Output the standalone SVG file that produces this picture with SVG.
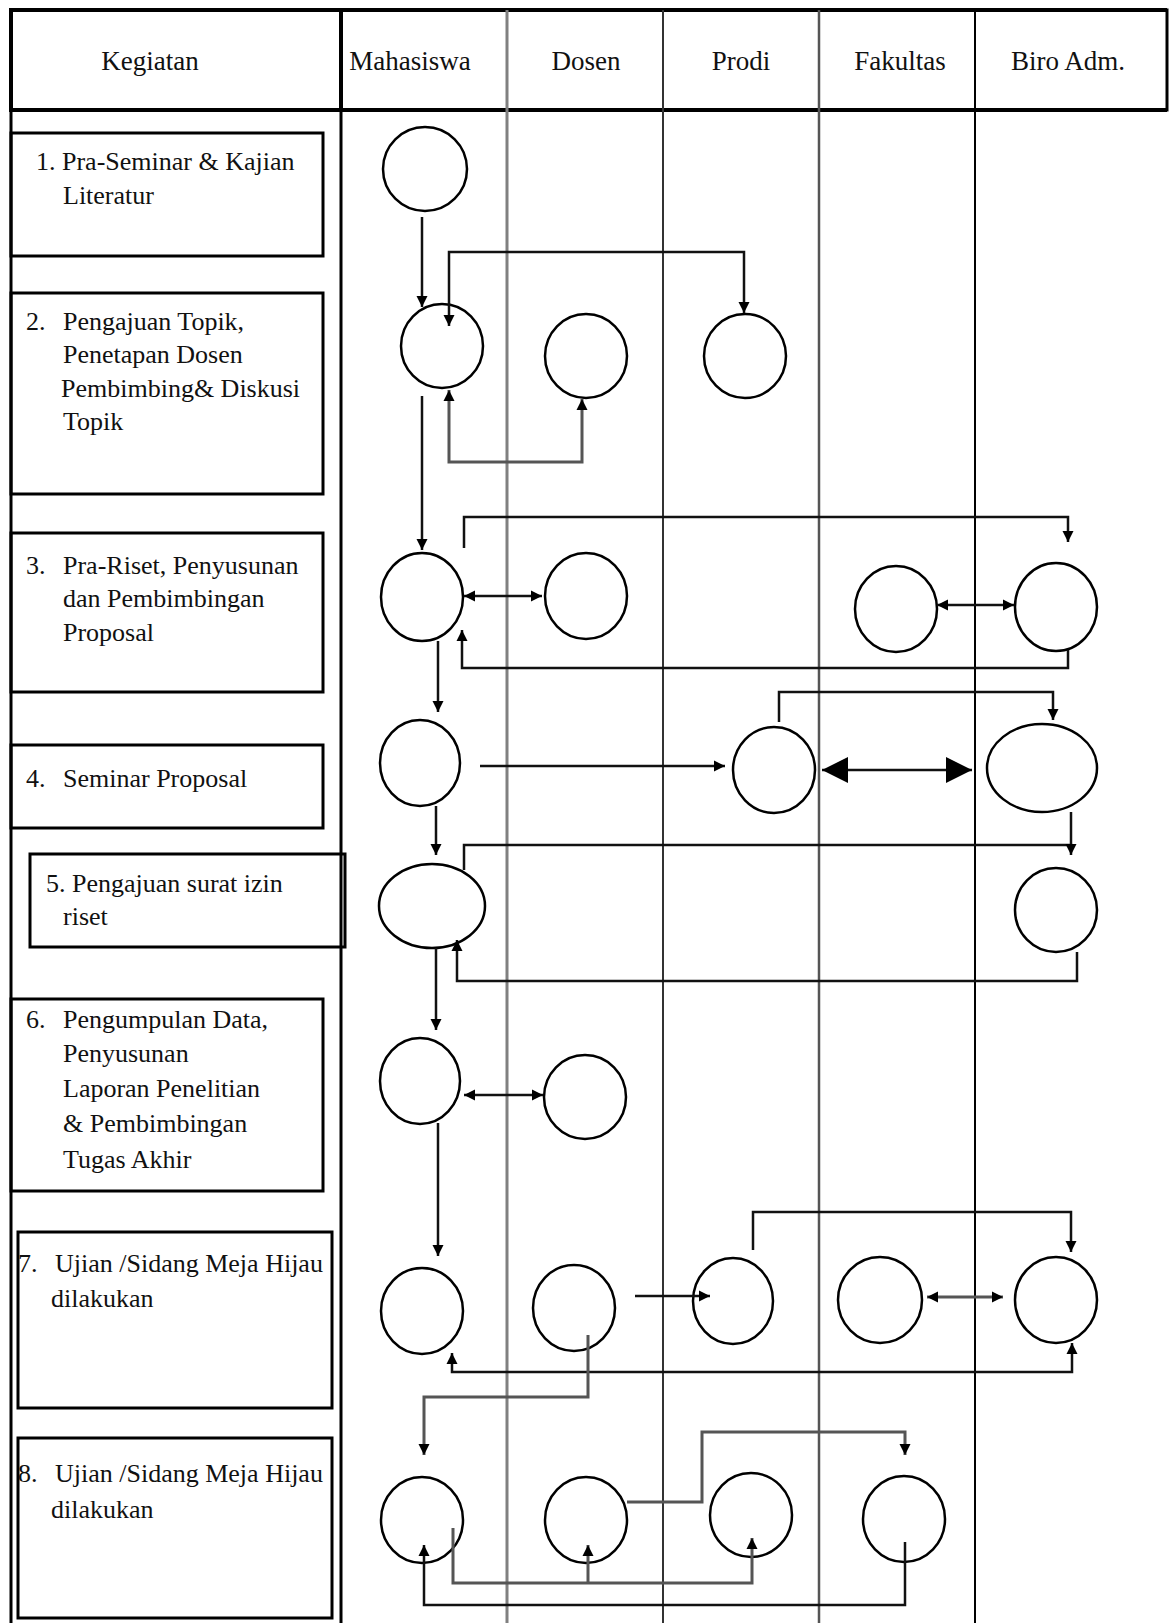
<svg xmlns="http://www.w3.org/2000/svg" width="1169" height="1623" viewBox="0 0 1169 1623">
<style>
.t{font-family:"Liberation Serif","Times New Roman",serif;font-size:26px;fill:#111}
.h{font-family:"Liberation Serif","Times New Roman",serif;font-size:27px;fill:#111;text-anchor:middle}
.box{fill:none;stroke:#000;stroke-width:3}
.n{fill:#fff;stroke:#000;stroke-width:2.5}
.c{fill:none;stroke:#111;stroke-width:2.5}
.g{fill:none;stroke:#555;stroke-width:3}
</style>
<defs>
<marker id="ah" viewBox="0 0 10 10" refX="10" refY="5" markerWidth="11" markerHeight="12" markerUnits="userSpaceOnUse" orient="auto-start-reverse"><path d="M0,0 L10,5 L0,10 z" fill="#000"/></marker>
<marker id="big" viewBox="0 0 10 10" refX="10" refY="5" markerWidth="26" markerHeight="30" markerUnits="userSpaceOnUse" orient="auto-start-reverse"><path d="M0,0 L10,5 L0,10 z" fill="#000"/></marker>
</defs>
<rect width="1169" height="1623" fill="#fff"/>

<g id="grid">
<rect x="11" y="10" width="330" height="100" fill="none" stroke="#000" stroke-width="4"/>
<rect x="341" y="10" width="826" height="100" fill="none" stroke="#000" stroke-width="3"/>
<line x1="11" y1="10" x2="1167" y2="10" stroke="#000" stroke-width="4"/>
<line x1="11" y1="110" x2="1167" y2="110" stroke="#000" stroke-width="4"/>
<line x1="11" y1="10" x2="11" y2="1623" stroke="#000" stroke-width="3"/>
<line x1="341" y1="10" x2="341" y2="1623" stroke="#000" stroke-width="3"/>
<line x1="507" y1="10" x2="507" y2="1623" stroke="#808080" stroke-width="3"/>
<line x1="663" y1="10" x2="663" y2="1623" stroke="#333" stroke-width="2"/>
<line x1="819" y1="10" x2="819" y2="1623" stroke="#555" stroke-width="2.5"/>
<line x1="975" y1="10" x2="975" y2="1623" stroke="#000" stroke-width="2"/>
<text class="h" x="150" y="70">Kegiatan</text>
<text class="h" x="410" y="70">Mahasiswa</text>
<text class="h" x="586" y="70">Dosen</text>
<text class="h" x="741" y="70">Prodi</text>
<text class="h" x="900" y="70">Fakultas</text>
<text class="h" x="1068" y="70">Biro Adm.</text>
</g>

<g id="k1"><rect class="box" x="11" y="133" width="312" height="123"/>
<text class="t" x="36" y="170">1. Pra-Seminar &amp; Kajian</text>
<text class="t" x="63" y="204">Literatur</text></g>
<g id="k2"><rect class="box" x="11" y="293" width="312" height="201"/>
<text class="t" x="26" y="330">2.</text>
<text class="t" x="63" y="330">Pengajuan Topik,</text>
<text class="t" x="63" y="363">Penetapan Dosen</text>
<text class="t" x="61" y="397">Pembimbing&amp; Diskusi</text>
<text class="t" x="63" y="430">Topik</text></g>
<g id="k3"><rect class="box" x="11" y="533" width="312" height="159"/>
<text class="t" x="26" y="574">3.</text>
<text class="t" x="63" y="574">Pra-Riset, Penyusunan</text>
<text class="t" x="63" y="607">dan Pembimbingan</text>
<text class="t" x="63" y="641">Proposal</text></g>
<g id="k4"><rect class="box" x="11" y="745" width="312" height="83"/>
<text class="t" x="26" y="787">4.</text>
<text class="t" x="63" y="787">Seminar Proposal</text></g>
<g id="k5"><rect class="box" x="30" y="854" width="315" height="93"/>
<text class="t" x="46" y="892">5. Pengajuan surat izin</text>
<text class="t" x="63" y="925">riset</text></g>
<g id="k6"><rect class="box" x="11" y="999" width="312" height="192"/>
<text class="t" x="26" y="1028">6.</text>
<text class="t" x="63" y="1028">Pengumpulan Data,</text>
<text class="t" x="63" y="1062">Penyusunan</text>
<text class="t" x="63" y="1097">Laporan Penelitian</text>
<text class="t" x="63" y="1132">&amp; Pembimbingan</text>
<text class="t" x="63" y="1168">Tugas Akhir</text></g>
<g id="k7"><rect class="box" x="18" y="1232" width="314" height="176"/>
<text class="t" x="18" y="1272">7.</text>
<text class="t" x="55" y="1272">Ujian /Sidang Meja Hijau</text>
<text class="t" x="51" y="1307">dilakukan</text></g>
<g id="k8"><rect class="box" x="18" y="1438" width="314" height="180"/>
<text class="t" x="18" y="1482">8.</text>
<text class="t" x="55" y="1482">Ujian /Sidang Meja Hijau</text>
<text class="t" x="51" y="1518">dilakukan</text></g>

<g id="nodes">
<g id="r1m"><ellipse class="n" cx="425" cy="169" rx="42" ry="42"/></g>
<g id="r2m"><ellipse class="n" cx="442" cy="346" rx="41" ry="42"/></g>
<g id="r2d"><ellipse class="n" cx="586" cy="356" rx="41" ry="42"/></g>
<g id="r2p"><ellipse class="n" cx="745" cy="356" rx="41" ry="42"/></g>
<g id="r3m"><ellipse class="n" cx="422" cy="597" rx="41" ry="44"/></g>
<g id="r3d"><ellipse class="n" cx="586" cy="596" rx="41" ry="43"/></g>
<g id="r3f"><ellipse class="n" cx="896" cy="609" rx="41" ry="43"/></g>
<g id="r3b"><ellipse class="n" cx="1056" cy="607" rx="41" ry="44"/></g>
<g id="r4m"><ellipse class="n" cx="420" cy="763" rx="40" ry="43"/></g>
<g id="r4p"><ellipse class="n" cx="774" cy="770" rx="41" ry="43"/></g>
<g id="r4b"><ellipse class="n" cx="1042" cy="768" rx="55" ry="44"/></g>
<g id="r5m"><ellipse class="n" cx="432" cy="906" rx="53" ry="42"/></g>
<g id="r5b"><ellipse class="n" cx="1056" cy="910" rx="41" ry="42"/></g>
<g id="r6m"><ellipse class="n" cx="420" cy="1081" rx="40" ry="43"/></g>
<g id="r6d"><ellipse class="n" cx="585" cy="1097" rx="41" ry="42"/></g>
<g id="r7m"><ellipse class="n" cx="422" cy="1311" rx="41" ry="43"/></g>
<g id="r7d"><ellipse class="n" cx="574" cy="1308" rx="41" ry="43"/></g>
<g id="r7p"><ellipse class="n" cx="733" cy="1301" rx="40" ry="43"/></g>
<g id="r7f"><ellipse class="n" cx="880" cy="1300" rx="42" ry="43"/></g>
<g id="r7b"><ellipse class="n" cx="1056" cy="1300" rx="41" ry="43"/></g>
<g id="r8m"><ellipse class="n" cx="422" cy="1520" rx="41" ry="43"/></g>
<g id="r8d"><ellipse class="n" cx="586" cy="1520" rx="41" ry="43"/></g>
<g id="r8p"><ellipse class="n" cx="751" cy="1515" rx="41" ry="42"/></g>
<g id="r8f"><ellipse class="n" cx="904" cy="1519" rx="41" ry="43"/></g>
</g>

<g id="connectors">
<path class="c" d="M422,217 L422,307" marker-end="url(#ah)"/>
<path class="c" d="M449,326 L449,252 L744,252 L744,313" marker-start="url(#ah)" marker-end="url(#ah)"/>
<path class="g" d="M449,390 L449,462 L582,462 L582,399" marker-start="url(#ah)" marker-end="url(#ah)"/>
<path class="c" d="M422,396 L422,550" marker-end="url(#ah)"/>
<path class="c" d="M464,548 L464,517 L1068,517 L1068,542" marker-end="url(#ah)"/>
<path class="c" stroke-width="3.5" d="M464,596 L542,596" marker-start="url(#ah)" marker-end="url(#ah)"/>
<path class="c" stroke-width="3" d="M937,605 L1014,605" marker-start="url(#ah)" marker-end="url(#ah)"/>
<path class="c" d="M1068,650 L1068,668 L462,668 L462,630" marker-end="url(#ah)"/>
<path class="c" d="M438,641 L438,712" marker-end="url(#ah)"/>
<path class="c" stroke="#444" stroke-width="3" d="M480,766 L725,766" marker-end="url(#ah)"/>
<path class="c" stroke-width="5" d="M822,770 L972,770" marker-start="url(#big)" marker-end="url(#big)"/>
<path class="c" d="M779,722 L779,692 L1053,692 L1053,720" marker-end="url(#ah)"/>
<path class="c" d="M436,806 L436,855" marker-end="url(#ah)"/>
<path class="c" d="M1071,812 L1071,845"/>
<path class="c" d="M464,870 L464,845 L1071,845 L1071,855" marker-end="url(#ah)"/>
<path class="c" d="M1077,952 L1077,981 L457,981 L457,940" marker-end="url(#ah)"/>
<path class="c" d="M436,948 L436,1030" marker-end="url(#ah)"/>
<path class="c" stroke-width="3" d="M464,1095 L543,1095" marker-start="url(#ah)" marker-end="url(#ah)"/>
<path class="c" d="M438,1123 L438,1256" marker-end="url(#ah)"/>
<path class="c" d="M753,1250 L753,1212 L1071,1212 L1071,1252" marker-end="url(#ah)"/>
<path class="c" stroke-width="3" d="M635,1296 L710,1296" marker-end="url(#ah)"/>
<path class="g" stroke="#777" stroke-width="4" d="M927,1297 L1003,1297" marker-start="url(#ah)" marker-end="url(#ah)"/>
<path class="c" stroke-width="3" d="M452,1353 L452,1372 L1072,1372 L1072,1343" marker-start="url(#ah)" marker-end="url(#ah)"/>
<path class="g" d="M588,1335 L588,1397 L424,1397 L424,1455" marker-end="url(#ah)"/>
<path class="g" d="M627,1502 L702,1502 L702,1432 L905,1432 L905,1455" marker-end="url(#ah)"/>
<path class="g" d="M453,1528 L453,1583 L752,1583 L752,1538" marker-end="url(#ah)"/>
<path class="g" d="M588,1583 L588,1545" marker-end="url(#ah)"/>
<path class="c" stroke="#444" d="M905,1542 L905,1605 L424,1605 L424,1545" marker-end="url(#ah)"/>
</g>
</svg>
